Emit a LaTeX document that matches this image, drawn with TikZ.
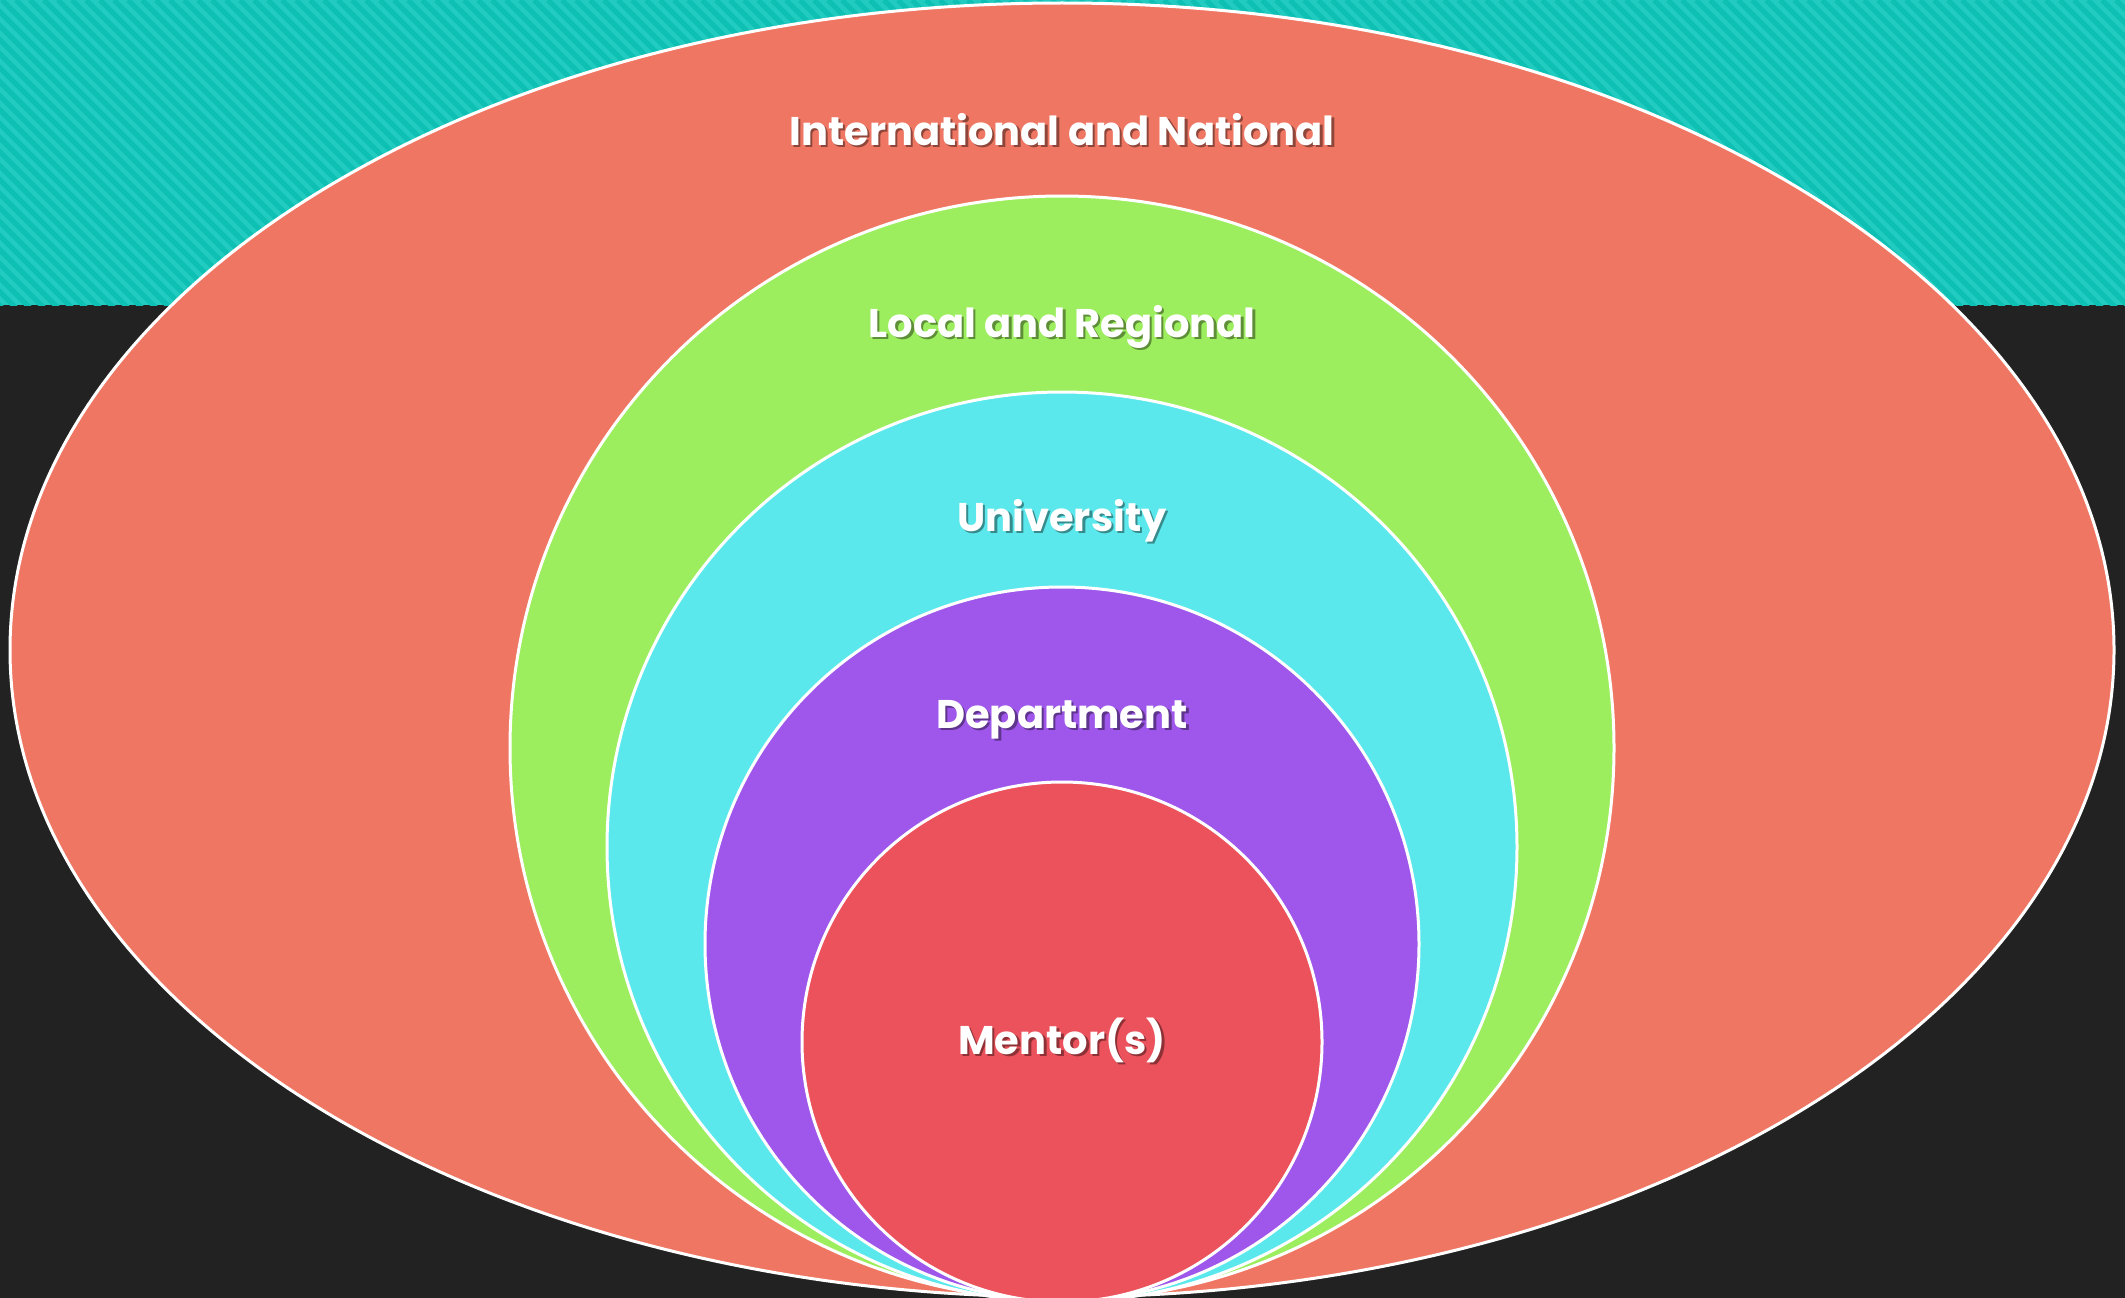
\documentclass[tikz,border=0pt]{standalone}
\usepackage{fontspec}
\newfontfamily\labfont{Poppins}
\definecolor{bgdark}{HTML}{222222}
\definecolor{tealA}{HTML}{22CBBF}
\definecolor{tealB}{HTML}{0DC0B3}
\definecolor{cOuter}{HTML}{EF7662}
\definecolor{cGreen}{HTML}{9DEE5E}
\definecolor{cCyan}{HTML}{5BE8EC}
\definecolor{cPurple}{HTML}{9E57EA}
\definecolor{cRed}{HTML}{EC525C}
\tikzset{
  ring/.style={draw=white, line width=3pt},
  lab/.style={anchor=base, text=white, inner sep=0pt, font=\labfont\bfseries\fontsize{40}{48}\selectfont},
  labshadow/.style={anchor=base, text=black, opacity=0.4, inner sep=0pt, font=\labfont\bfseries\fontsize{40}{48}\selectfont}
}
\begin{document}
\begin{tikzpicture}[x=1pt,y=-1pt]
\useasboundingbox (0,0) rectangle (2125,1298);
\fill[bgdark] (0,0) rectangle (2125,1298);
\begin{scope}
  \clip (0,0) rectangle (2125,305);
  \fill[tealA] (0,0) rectangle (2125,305);
  \foreach \i in {-320,-306,...,2130} {
    \draw[tealB, line width=5pt] (\i,0) -- ++(320,320);
  }
\end{scope}
\fill[cOuter] (1062,650) ellipse [x radius=1052pt, y radius=647pt];
\draw[ring] (1062,650) ellipse [x radius=1052pt, y radius=647pt];
\filldraw[ring, fill=cGreen] (1062,748) circle [radius=552pt];
\filldraw[ring, fill=cCyan] (1062,847) circle [radius=455pt];
\filldraw[ring, fill=cPurple] (1062,944) circle [radius=357pt];
\filldraw[ring, fill=cRed] (1062,1042) circle [radius=260pt];
\foreach \nm/\y/\t in {intl/145/International and National, loc/337/Local and Regional, uni/531/University, dep/728/Department, men/1054/Mentor(s)} {
  \node[labshadow] (\nm s) at (1064.5,\y+2.5) {\t};
  \node[lab] (\nm) at (1062,\y) {\t};
}
\end{tikzpicture}
\end{document}
